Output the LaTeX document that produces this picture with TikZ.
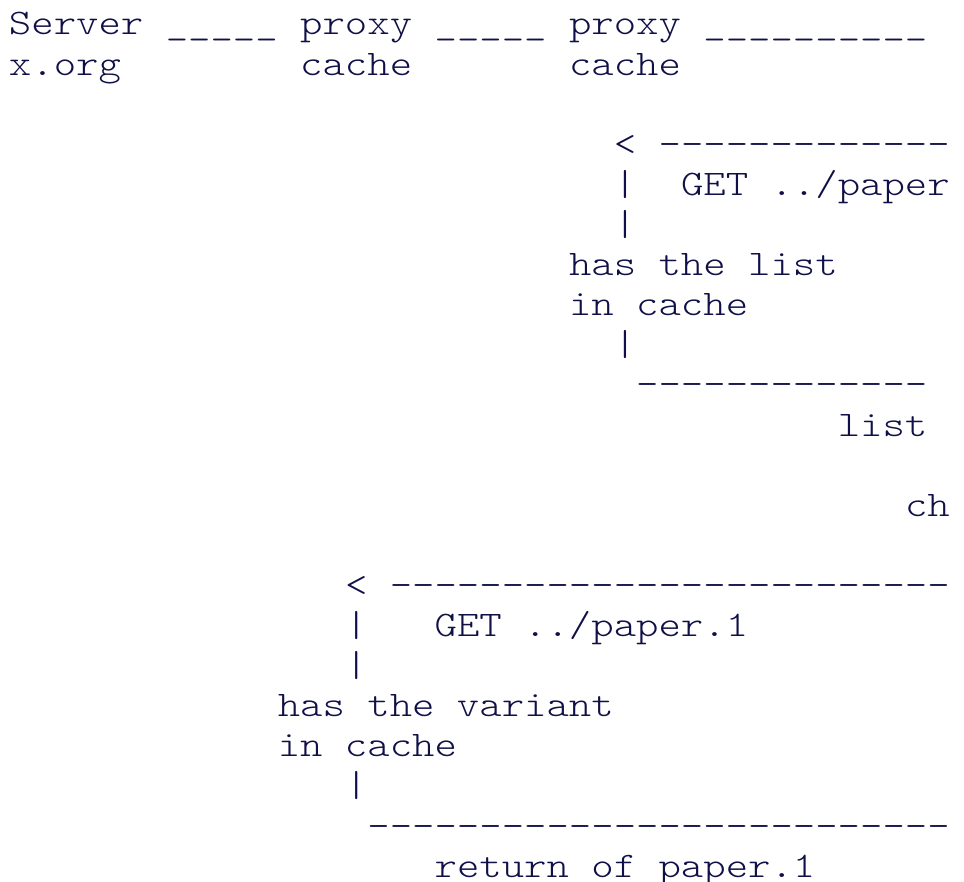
\documentclass[tikz,border=0pt]{standalone}
\usepackage{fontspec}
\newfontfamily\asc{lmmonolt10-regular.otf}[FakeStretch=1.185]
\definecolor{ink}{RGB}{16,16,72}
\begin{document}
\begin{tikzpicture}[x=11.2pt,y=-20.05pt,
  t/.style={anchor=base west,inner sep=0pt,outer sep=0pt,text=ink,font=\asc\fontsize{18pt}{20pt}\selectfont}]
\useasboundingbox (-4.5pt,17.5pt) rectangle (477.5pt,-423.5pt);
% header
\node[t] (srv)  at (0,0)  {Server};
\node[t] (u1)   at (7,0)  {\_\_\_\_\_};
\node[t] (px1)  at (13,0) {proxy};
\node[t] (u2)   at (19,0) {\_\_\_\_\_};
\node[t] (px2)  at (25,0) {proxy};
\node[t] (u3)   at (31,0) {\_\_\_\_\_\_\_\_\_\_};
\node[t] (xorg) at (0,1)  {x.org};
\node[t] (c1)   at (13,1) {cache};
\node[t] (c2)   at (25,1) {cache};
% first exchange
\node[t] (lt1)  at (27,3) {<};
\node[t] (d1)   at (29,3) {-------------};
\node[t] (b1)   at (27,4) {|};
\node[t] (get1) at (30,4) {GET ../paper};
\node[t] (b2)   at (27,5) {|};
\node[t] (has1) at (25,6) {has the list};
\node[t] (inc1) at (25,7) {in cache};
\node[t] (b3)   at (27,8) {|};
\node[t] (d2)   at (28,9) {-------------};
\node[t] (lst)  at (37,10) {list};
\node[t] (ch)   at (40,12) {ch};
% second exchange
\node[t] (lt2)  at (15,14) {<};
\node[t] (d3)   at (17,14) {-------------------------};
\node[t] (b4)   at (15,15) {|};
\node[t] (get2) at (19,15) {GET ../paper.1};
\node[t] (b5)   at (15,16) {|};
\node[t] (has2) at (12,17) {has the variant};
\node[t] (inc2) at (12,18) {in cache};
\node[t] (b6)   at (15,19) {|};
\node[t] (d4)   at (16,20) {--------------------------};
\node[t] (ret)  at (19,21) {return of paper.1};
\end{tikzpicture}
\end{document}
